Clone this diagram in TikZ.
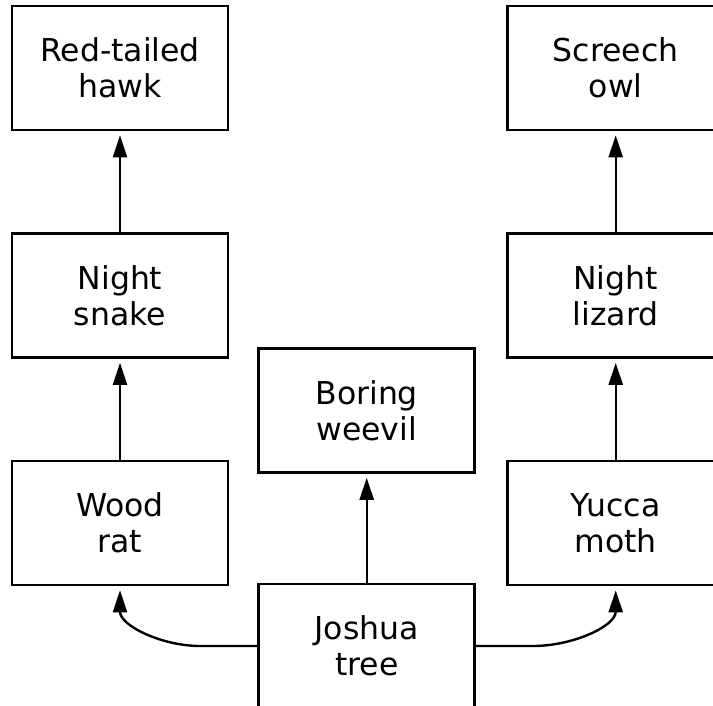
\documentclass[tikz,border=0pt]{standalone}
\usepackage{fontspec}
\setmainfont{DejaVu Sans}
\usetikzlibrary{arrows.meta}
\begin{document}
\begin{tikzpicture}[x=1pt,y=-1pt,
  box/.style={draw=black,line width=2.6pt,minimum width=216pt,minimum height=124pt,
    align=center,inner sep=0pt,font=\fontsize{31.5}{36}\selectfont},
  arr/.style={line width=2.4pt,-{Triangle[length=22pt,width=14pt]},shorten >=4pt}]
\fill[white] (0,0) rectangle (713,705);
\useasboundingbox (0,0) rectangle (713,705);
\begin{scope}
\clip (0,0) rectangle (713,705);
\node[box] (hawk) at (120,68) {Red-tailed\\hawk};
\node[box] (owl) at (615.7,68) {Screech\\owl};
\node[box] (snake) at (120,295.5) {Night\\snake};
\node[box] (lizard) at (615.7,295.5) {Night\\lizard};
\node[box] (weevil) at (366.7,410.5) {Boring\\weevil};
\node[box] (rat) at (120,523) {Wood\\rat};
\node[box] (moth) at (615.7,523) {Yucca\\moth};
\node[box] (tree) at (366.7,646) {Joshua\\tree};
\draw[arr] (snake.north) -- (hawk.south);
\draw[arr] (lizard.north) -- (owl.south);
\draw[arr] (rat.north) -- (snake.south);
\draw[arr] (moth.north) -- (lizard.south);
\draw[arr] (tree.north) -- (weevil.south);
\draw[arr] (tree.west) -- ++(-57,0) to[out=180,in=-90] (rat.south);
\draw[arr] (tree.east) -- ++(57,0) to[out=0,in=-90] (moth.south);
\end{scope}
\end{tikzpicture}
\end{document}
